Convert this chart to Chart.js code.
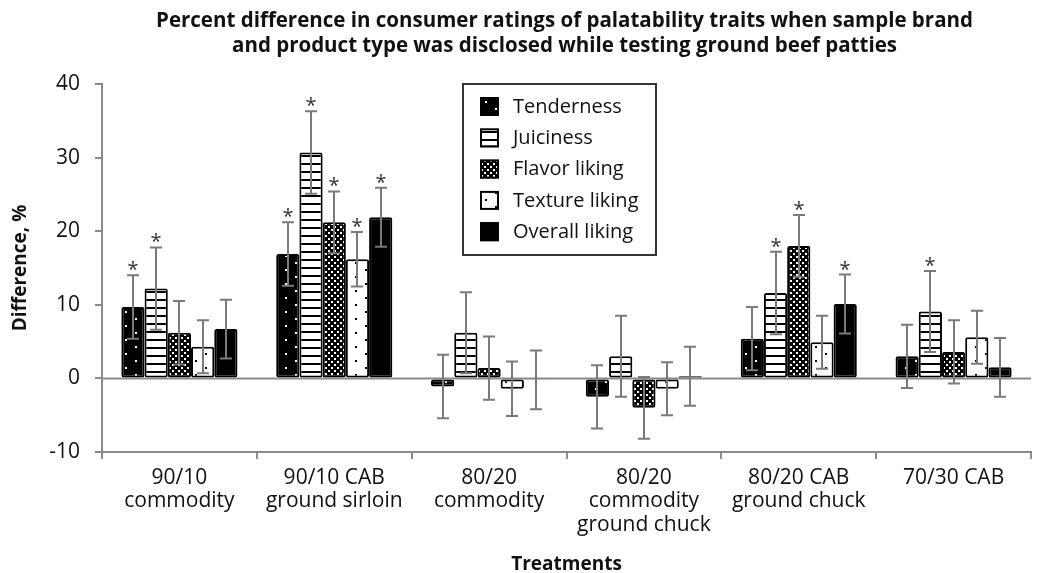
<!DOCTYPE html>
<html>
<head>
<meta charset="utf-8">
<script src="https://cdn.jsdelivr.net/npm/chart.js@4/dist/chart.umd.min.js"></script>
<style>
  html, body { margin: 0; padding: 0; background: #fff; }
  #wrap { width: 1037px; height: 573px; }
</style>
</head>
<body>
<div id="wrap"><canvas id="grafico" width="1037" height="573"></canvas></div>
<script>
// treatments on the x axis
const categorias = [
  ["90/10", "commodity"],
  ["90/10 CAB", "ground sirloin"],
  ["80/20", "commodity"],
  ["80/20", "commodity", "ground chuck"],
  ["80/20 CAB", "ground chuck"],
  ["70/30 CAB"]
];

const tituloLineas = [
  "Percent difference in consumer ratings of palatability traits when sample brand",
  "and product type was disclosed while testing ground beef patties"
];

// % difference per trait
const tenderness    = [9.7, 16.9, -1.1, -2.5, 5.4, 3.0];
const juiciness     = [12.2, 30.7, 6.2, 3.0, 11.6, 9.1];
const flavorLiking  = [6.2, 21.2, 1.4, -4.0, 18.0, 3.6];
const textureLiking = [4.3, 16.2, -1.4, -1.4, 4.9, 5.6];
const overallLiking = [6.7, 21.9, -0.2, 0.3, 10.1, 1.5];

// standard errors (+/-)
const errTenderness = [4.3, 4.3, 4.3, 4.3, 4.3, 4.3];
const errJuiciness  = [5.6, 5.6, 5.5, 5.5, 5.6, 5.5];
const errFlavor     = [4.3, 4.2, 4.3, 4.2, 4.2, 4.3];
const errTexture    = [3.6, 3.7, 3.7, 3.6, 3.6, 3.6];
const errOverall    = [4.0, 4.0, 4.0, 4.0, 4.0, 4.0];

// significance markers (*)
const sigTenderness = [true, true, false, false, false, false];
const sigJuiciness  = [true, true, false, false, true, true];
const sigFlavor     = [false, true, false, false, true, false];
const sigTexture    = [false, true, false, false, false, false];
const sigOverall    = [false, true, false, false, true, false];

const yTicks = [-10, 0, 10, 20, 30, 40];

const FUENTE = "'Open Sans', 'Noto Sans', sans-serif";
const GRIS = "#8a8a8a";

// fill patterns
function patron(w, h, dibujar) {
  const c = document.createElement("canvas");
  c.width = w; c.height = h;
  const g = c.getContext("2d");
  dibujar(g, w, h);
  return g.createPattern(c, "repeat");
}
const ctx = document.getElementById("grafico").getContext("2d");

const patTenderness = patron(20, 14, (g, w, h) => {
  g.fillStyle = "#000"; g.fillRect(0, 0, w, h);
  g.fillStyle = "#fff"; g.fillRect(5, 3, 2, 2); g.fillRect(15, 10, 2, 2);
});
const patJuiciness = patron(8, 8, (g, w, h) => {
  g.fillStyle = "#fff"; g.fillRect(0, 0, w, h);
  g.fillStyle = "#000"; g.fillRect(0, 3, w, 2);
});
const patFlavor = patron(6, 6, (g, w, h) => {
  g.fillStyle = "#000"; g.fillRect(0, 0, w, h);
  g.fillStyle = "#fff"; g.fillRect(1, 1, 2, 2); g.fillRect(4, 4, 2, 2);
});
const patTexture = patron(20, 14, (g, w, h) => {
  g.fillStyle = "#fff"; g.fillRect(0, 0, w, h);
  g.fillStyle = "#000"; g.fillRect(5, 3, 2, 2); g.fillRect(15, 10, 2, 2);
});

function serie(label, data, fondo, errores, sig) {
  return {
    label, data,
    backgroundColor: fondo,
    borderColor: "#000",
    borderWidth: 2,
    borderSkipped: false,
    borderRadius: 2,
    errores, sig
  };
}

const datasets = [
  serie("Tenderness", tenderness, patTenderness, errTenderness, sigTenderness),
  serie("Juiciness", juiciness, patJuiciness, errJuiciness, sigJuiciness),
  serie("Flavor liking", flavorLiking, patFlavor, errFlavor, sigFlavor),
  serie("Texture liking", textureLiking, patTexture, errTexture, sigTexture),
  serie("Overall liking", overallLiking, "#000", errOverall, sigOverall)
];

// zero line under the bars
const lineaCero = {
  id: "lineaCero",
  beforeDatasetsDraw(chart) {
    const { ctx, chartArea, scales } = chart;
    const y0 = scales.y.getPixelForValue(0);
    ctx.save();
    ctx.strokeStyle = GRIS;
    ctx.lineWidth = 2;
    ctx.beginPath();
    ctx.moveTo(chartArea.left, y0);
    ctx.lineTo(chartArea.right, y0);
    ctx.stroke();
    ctx.restore();
  }
};

// error bars + asterisks
const barrasError = {
  id: "barrasError",
  afterDatasetsDraw(chart) {
    const { ctx, scales } = chart;
    ctx.save();
    chart.data.datasets.forEach((ds, i) => {
      const meta = chart.getDatasetMeta(i);
      meta.data.forEach((bar, j) => {
        const v = ds.data[j], e = ds.errores[j];
        const yArriba = scales.y.getPixelForValue(v + e);
        const yAbajo = scales.y.getPixelForValue(v - e);
        const x = Math.round(bar.x);
        ctx.strokeStyle = "#7a7a7a";
        ctx.lineWidth = 2;
        ctx.beginPath();
        ctx.moveTo(x, yArriba); ctx.lineTo(x, yAbajo);
        ctx.moveTo(x - 6, yArriba); ctx.lineTo(x + 6, yArriba);
        ctx.moveTo(x - 6, yAbajo); ctx.lineTo(x + 6, yAbajo);
        ctx.stroke();
        if (ds.sig[j]) {
          ctx.fillStyle = "#333";
          ctx.font = "20px " + FUENTE;
          ctx.textAlign = "center";
          ctx.textBaseline = "alphabetic";
          ctx.fillText("*", x, yArriba + 1);
        }
      });
    });
    ctx.restore();
  }
};

// legend box inside the plot
const leyenda = {
  id: "leyenda",
  afterDraw(chart) {
    const { ctx, chartArea } = chart;
    const x0 = chartArea.left + 361, y0 = chartArea.top;
    ctx.save();
    ctx.fillStyle = "#fff";
    ctx.fillRect(x0, y0, 193, 171);
    ctx.strokeStyle = "#333";
    ctx.lineWidth = 2;
    ctx.strokeRect(x0, y0, 193, 171);
    chart.data.datasets.forEach((ds, i) => {
      const cy = y0 + 22 + i * 31.3;
      ctx.fillStyle = ds.backgroundColor;
      ctx.fillRect(x0 + 17, cy - 9, 19, 19);
      ctx.strokeStyle = "#000";
      ctx.lineWidth = 2;
      ctx.strokeRect(x0 + 18, cy - 8, 17, 17);
      ctx.fillStyle = "#111";
      ctx.font = "20px " + FUENTE;
      ctx.textAlign = "left";
      ctx.textBaseline = "middle";
      ctx.fillText(ds.label, x0 + 50, cy + 1);
    });
    ctx.restore();
  }
};

// two-line bold title centred over the plot
const titulo = {
  id: "titulo",
  afterDraw(chart) {
    const { ctx, chartArea } = chart;
    const cx = (chartArea.left + chartArea.right) / 2 - 2;
    ctx.save();
    ctx.fillStyle = "#111";
    ctx.font = "bold 20.5px " + FUENTE;
    ctx.textAlign = "center";
    ctx.textBaseline = "middle";
    tituloLineas.forEach((t, i) => ctx.fillText(t, cx, 21 + i * 25));
    ctx.restore();
  }
};

new Chart(ctx, {
  type: "bar",
  data: { labels: categorias, datasets },
  plugins: [lineaCero, barrasError, leyenda, titulo],
  options: {
    responsive: false,
    animation: false,
    layout: { padding: { top: 84, right: 6, left: 0, bottom: 0 } },
    datasets: { bar: { categoryPercentage: 0.75, barPercentage: 1.0 } },
    plugins: {
      legend: { display: false },
      tooltip: { enabled: false },
      title: { display: false }
    },
    scales: {
      x: {
        afterFit(scale) { scale.height = 121; },
        grid: { drawOnChartArea: false, drawTicks: true, tickLength: 7, color: GRIS, lineWidth: 2 },
        border: { color: GRIS, width: 2 },
        ticks: {
          color: "#111",
          padding: 7,
          maxRotation: 0,
          autoSkip: false,
          font: { family: FUENTE, size: 21, lineHeight: 1.12 }
        },
        title: {
          display: true,
          text: "Treatments",
          color: "#111",
          padding: { top: 0, bottom: 0 },
          font: { family: FUENTE, size: 19, weight: "bold", lineHeight: 0.85 }
        }
      },
      y: {
        min: -10,
        max: 40,
        afterFit(scale) { scale.width = 102; },
        afterBuildTicks(scale) { scale.ticks = yTicks.map(v => ({ value: v })); },
        grid: { drawOnChartArea: false, drawTicks: true, tickLength: 7, color: GRIS, lineWidth: 2 },
        border: { color: GRIS, width: 2 },
        ticks: {
          color: "#111",
          padding: 15,
          font: { family: FUENTE, size: 21 }
        },
        title: {
          display: true,
          text: "Difference, %",
          color: "#111",
          padding: { top: 9, bottom: 0 },
          font: { family: FUENTE, size: 19, weight: "bold" }
        }
      }
    }
  }
});
</script>
</body>
</html>
